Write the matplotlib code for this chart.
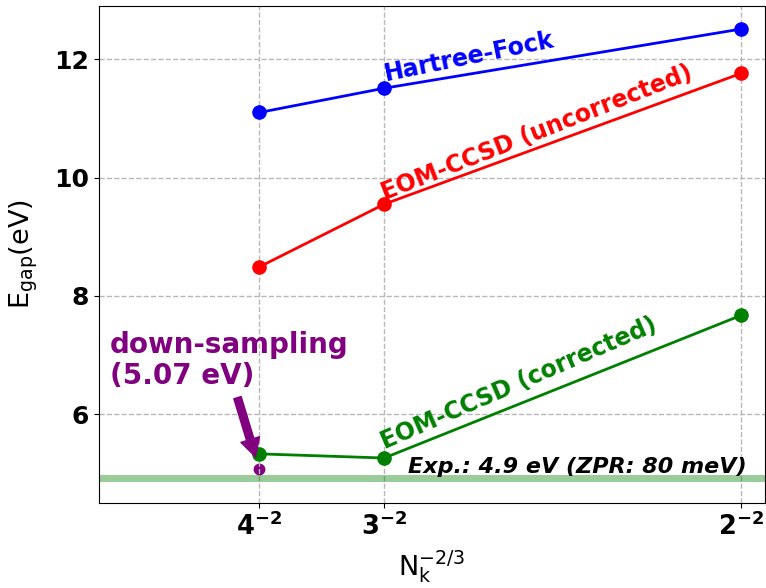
import matplotlib
matplotlib.use("Agg")
import matplotlib.pyplot as plt
import numpy as np

# Data
x_vals = [1/16, 1/9, 1/4]
x_ticklabels = [r"$\mathbf{4^{-2}}$", r"$\mathbf{3^{-2}}$", r"$\mathbf{2^{-2}}$"]
hf = [11.10, 11.51, 12.51]
eom_uncorr = [8.49, 9.55, 11.76]
eom_corr = [5.33, 5.26, 7.67]
downsample_x = 1/16
downsample_y = 5.07
exp_gap = 4.92

fig = plt.figure(figsize=(7.66, 5.88), dpi=100)
ax = fig.add_axes([0.129, 0.1446, 0.8697, 0.8452])

ax.grid(True, linestyle="--", color="#b8b8b8", linewidth=1.0)
ax.set_axisbelow(True)

ax.axhline(exp_gap, color="green", alpha=0.4, linewidth=5)
ax.plot(x_vals, hf, "o-", color="blue", linewidth=2, markersize=9.5)
ax.plot(x_vals, eom_uncorr, "o-", color="red", linewidth=2, markersize=9.5)
ax.plot(x_vals, eom_corr, "o-", color="green", linewidth=2, markersize=9.5)
ax.plot([downsample_x], [downsample_y], "o", color="purple", markersize=7.5, zorder=0.4)

ax.text(0.1117, 11.64, "Hartree-Fock", color="blue", fontsize=17, fontweight="bold",
        rotation=11.5, rotation_mode="anchor", ha="left", va="baseline")
ax.text(0.1113, 9.62, "EOM-CCSD (uncorrected)", color="red", fontsize=17, fontweight="bold",
        rotation=21.5, rotation_mode="anchor", ha="left", va="baseline")
ax.text(0.1113, 5.40, "EOM-CCSD (corrected)", color="green", fontsize=17, fontweight="bold",
        rotation=23.5, rotation_mode="anchor", ha="left", va="baseline")
ax.text(0.1202, 5.0, "Exp.: 4.9 eV (ZPR: 80 meV)", color="black", fontsize=16,
        fontweight="bold", fontstyle="italic", ha="left", va="baseline")

ax.text(0.0043, 7.40, "down-sampling\n(5.07 eV)", color="purple", fontsize=20,
        fontweight="bold", ha="left", va="top", linespacing=1.1)
ax.annotate("", xy=(0.0610, 5.28), xytext=(0.0540, 6.28),
            arrowprops=dict(facecolor="purple", edgecolor="purple", width=5.5,
                            headwidth=14, headlength=13, shrink=0.0))

ax.set_xlim(0, 0.2594)
ax.set_ylim(4.5, 12.9)
ax.set_xticks(x_vals)
ax.set_xticklabels(x_ticklabels, fontsize=18.5)
ax.set_yticks([6, 8, 10, 12])
ax.set_yticklabels(["6", "8", "10", "12"], fontsize=18, fontweight="bold")
ax.set_xlabel(r"N$_{\rm k}^{-2/3}$", fontsize=19.5, labelpad=5)
ax.set_ylabel(r"E$_{\rm gap}$(eV)", fontsize=19.5, labelpad=10)

fig.savefig("out.png", dpi=100)
